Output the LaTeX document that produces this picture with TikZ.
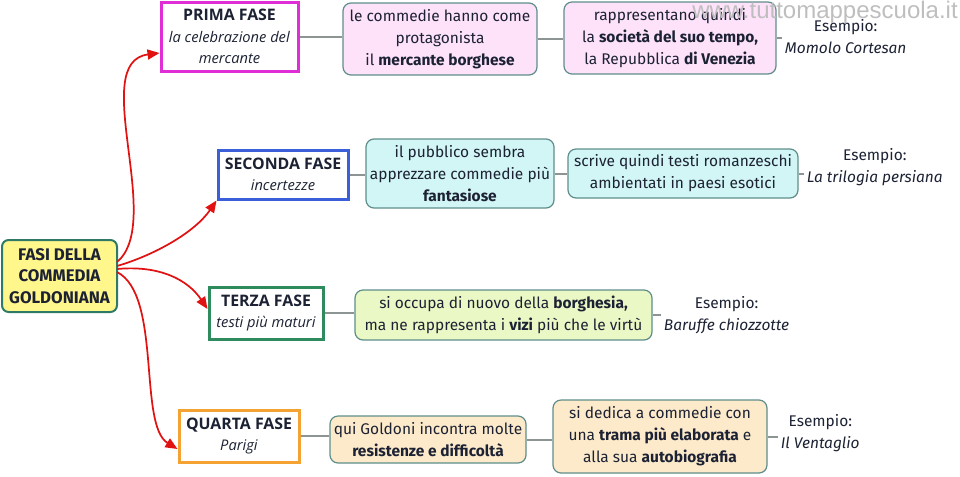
\documentclass[tikz,border=0pt]{standalone}
\usepackage{fontspec}
\setmainfont{Fira Sans}
\newfontfamily\titlefont{Open Sans}
\newfontfamily\wmfont{Liberation Sans}
\usetikzlibrary{arrows.meta}
\definecolor{txt}{HTML}{1C2233}
\definecolor{rootfill}{HTML}{FFF68C}
\definecolor{rootdraw}{HTML}{2E7A66}
\definecolor{pmag}{HTML}{E02ED6}
\definecolor{pblue}{HTML}{3A5FD8}
\definecolor{pgreen}{HTML}{2E8B5E}
\definecolor{porange}{HTML}{F4A232}
\definecolor{pinkfill}{HTML}{FDE2FA}
\definecolor{cyanfill}{HTML}{D2F6F6}
\definecolor{greenfill}{HTML}{EAF8C6}
\definecolor{orangefill}{HTML}{FCEACB}
\definecolor{boxdraw}{HTML}{5E8E8A}
\definecolor{linkgray}{HTML}{8C9494}
\definecolor{arrred}{HTML}{E01212}
\definecolor{wmgray}{HTML}{BEBEBE}
\newcommand\phasetitle[1]{{\fontsize{11.9}{16}\selectfont\bfseries #1}}
\tikzset{
  phase/.style={draw, line width=2.25pt, fill=white, align=center, inner sep=0pt,
    font=\titlefont\fontsize{11}{16}\selectfont},
  content/.style={draw=boxdraw, rounded corners=6pt, line width=0.9pt, align=center, inner sep=0pt},
  link/.style={draw=linkgray, line width=1.5pt},
  arr/.style={draw=arrred, line width=1.3pt, -{Triangle[length=9pt,width=7.5pt]}},
  ex/.style={align=center, inner sep=2pt, anchor=west}
}
\begin{document}
\begin{tikzpicture}[x=0.75pt,y=-0.75pt,
  font=\fontsize{11.6}{16.5}\selectfont, text=txt]
\useasboundingbox (0,0) rectangle (960,476);

% root
\node[draw=rootdraw, line width=1.5pt, fill=rootfill, rounded corners=5pt, align=center,
  inner sep=0pt, minimum width=86.25pt, minimum height=54pt, font=\bfseries\fontsize{12.6}{16}\selectfont]
  (root) at (59.5,276) {FASI DELLA\\COMMEDIA\\GOLDONIANA};

% phases
\node[phase, draw=pmag, minimum width=102.75pt, minimum height=51.75pt] (p1) at (229.5,36.5)
  {\phasetitle{PRIMA FASE}\\\textit{la celebrazione del}\\\textit{mercante}};
\node[phase, draw=pblue, minimum width=97.5pt, minimum height=36.75pt] (p2) at (283,174.5)
  {\phasetitle{SECONDA FASE}\\\textit{incertezze}};
\node[phase, draw=pgreen, minimum width=85.5pt, minimum height=39pt] (p3) at (266,313)
  {\phasetitle{TERZA FASE}\\\textit{testi più maturi}};
\node[phase, draw=porange, minimum width=90pt, minimum height=39pt] (p4) at (239,436)
  {\phasetitle{QUARTA FASE}\\\textit{Parigi}};

% content boxes
\node[content, fill=pinkfill, minimum width=145.5pt, minimum height=54pt] (b1a) at (440,39)
  {le commedie hanno come\\protagonista\\il \textbf{mercante borghese}};
\node[content, fill=pinkfill, minimum width=159pt, minimum height=54pt] (b1b) at (670,38)
  {rappresentano quindi\\la \textbf{società del suo tempo,}\\la Repubblica \textbf{di Venezia}};
\node[content, fill=cyanfill, minimum width=141pt, minimum height=51.75pt] (b2a) at (460,173.5)
  {il pubblico sembra\\apprezzare commedie più\\\textbf{fantasiose}};
\node[content, fill=cyanfill, minimum width=172.5pt, minimum height=36.75pt] (b2b) at (683,173.5)
  {scrive quindi testi romanzeschi\\ambientati in paesi esotici};
\node[content, fill=greenfill, minimum width=222.75pt, minimum height=37.5pt] (b3a) at (503.5,315)
  {si occupa di nuovo della \textbf{borghesia,}\\ma ne rappresenta i \textbf{vizi} più che le virtù};
\node[content, fill=orangefill, minimum width=147pt, minimum height=35.25pt] (b4a) at (428,439.5)
  {qui Goldoni incontra molte\\\textbf{resistenze e difficoltà}};
\node[content, fill=orangefill, minimum width=160.5pt, minimum height=54.75pt] (b4b) at (660,436.5)
  {si dedica a commedie con\\una \textbf{trama più elaborata} e\\alla sua \textbf{autobiografia}};

% examples
\node[ex] (e1) at (782,37) {Esempio:\\\textit{Momolo Cortesan}};
\node[ex] (e2) at (804,167) {Esempio:\\\textit{La trilogia persiana}};
\node[ex] (e3) at (661,315) {Esempio:\\\textit{Baruffe chiozzotte}};
\node[ex] (e4) at (778,433) {Esempio:\\\textit{Il Ventaglio}};

% gray links
\draw[link] (p1.east) -- (p1.east -| b1a.west);
\draw[link] (b1a.east) -- (b1a.east -| b1b.west);
\draw[link] (b1b.east) -- (b1b.east -| e1.west);
\draw[link] (p2.east) -- (p2.east -| b2a.west);
\draw[link] (b2a.east) -- (b2a.east -| b2b.west);
\draw[link] (b2b.east) -- (b2b.east -| e2.west);
\draw[link] (p3.east) -- (p3.east -| b3a.west);
\draw[link] (b3a.east) -- (b3a.east -| e3.west);
\draw[link] (p4.east) -- (p4.east -| b4a.west);
\draw[link] (b4a.east) -- (b4a.east -| b4b.west);
\draw[link] (b4b.east) -- (b4b.east -| e4.west);

% red arrows
\coordinate (r1) at (117,262);
\coordinate (r2) at (117,266);
\coordinate (r3) at (117,269);
\coordinate (r4) at (117,272);
\draw[arr] (r1) .. controls (165,222) and (88,62) .. (p1.west |- 0,53);
\draw[arr] (r2) .. controls (155,255) and (195,232) .. (p2.south west);
\draw[arr] (r3) .. controls (160,265) and (188,280) .. (p3.west |- 0,309);
\draw[arr] (r4) .. controls (162,295) and (138,425) .. (p4.west |- 0,449);

% watermark
\node[anchor=base east, inner sep=0pt, text=wmgray, font=\wmfont\fontsize{18}{18}\selectfont]
  (wm) at (958,18) {www.tuttomappescuola.it};
\end{tikzpicture}
\end{document}
